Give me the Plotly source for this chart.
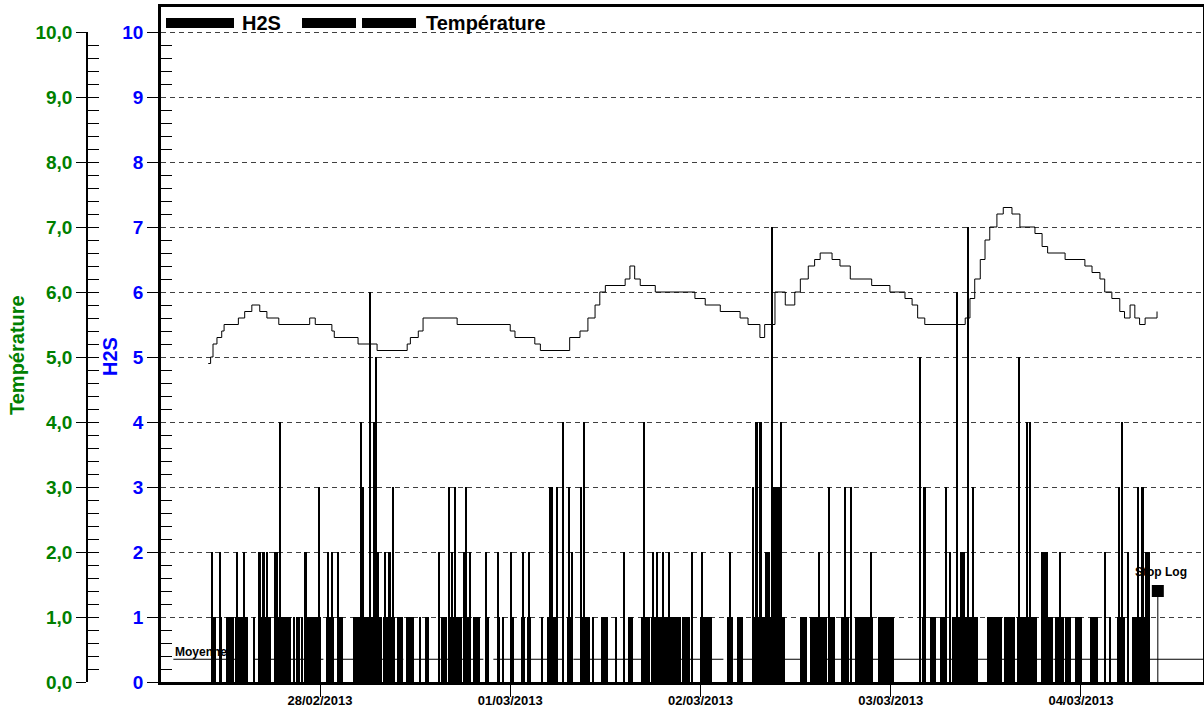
import plotly.graph_objects as go

W, H = 1204, 709
FONT = "Liberation Sans, Arial, sans-serif"

# temps en heures depuis le 27/02/2013 00:00
date_ticks = [24, 48, 72, 96, 120]
date_labels = ["28/02/2013", "01/03/2013", "02/03/2013", "03/03/2013", "04/03/2013"]

# H2S : periodes continues (debut, fin, niveau)
h2s_block_start = [10.2, 11.2, 12.2, 13.3, 15.5, 16.2, 18.2, 20.6, 21.0, 21.6, 22.1, 24.8, 26.1,
                   28.2, 29.5, 32.0, 33.7, 34.9, 36.6, 37.2, 39.3, 40.2, 42.1, 43.3, 44.8, 46.3,
                   48.1, 49.4, 50.1, 52.6, 55.1, 56.8, 59.4, 62.9, 64.5, 65.8, 68.2, 69.7, 71.9,
                   75.3, 76.6, 78.5, 84.6, 85.8, 88.2, 89.7, 91.5, 94.4, 99.9, 101.0, 102.2,
                   103.7, 108.2, 110.3, 111.9, 115.9, 116.7, 118.0, 119.2, 121.1, 124.5, 126.4,
                   18.2, 42.1, 80.1, 104.7, 115.0, 128.1, 81.2]
h2s_block_end = [10.9, 11.6, 13.2, 14.9, 15.8, 17.8, 20.4, 20.9, 21.5, 21.9, 24.1, 25.8, 26.9,
                 29.0, 31.8, 33.5, 34.5, 35.8, 36.8, 37.7, 40.0, 41.9, 43.1, 44.2, 45.3, 46.7,
                 48.5, 49.9, 50.6, 54.0, 55.8, 58.1, 60.3, 63.5, 65.6, 67.9, 69.6, 70.7, 73.5,
                 76.1, 77.4, 82.7, 85.4, 87.9, 89.0, 90.7, 93.8, 96.4, 100.5, 101.7, 102.8,
                 107.0, 110.1, 111.7, 114.4, 116.5, 117.8, 118.8, 120.1, 122.2, 125.5, 128.7,
                 18.7, 42.5, 80.8, 105.4, 115.8, 128.7, 82.3]
h2s_block_level = [1] * 62 + [2, 2, 2, 2, 2, 2, 3]

# H2S : pics brefs
h2s_peak_time = [10.4, 11.4, 13.6, 14.4, 16.4, 16.9, 17.4, 19.0, 22.2, 23.9, 25.0, 25.6, 26.3,
                 29.2, 29.4, 30.3, 30.8, 31.1, 31.4, 32.2, 32.8, 33.2, 39.1, 40.3, 40.7, 41.1,
                 42.4, 42.9, 45.0, 46.5, 47.1, 48.1, 49.6, 50.4, 52.0, 53.0, 53.3, 53.9, 54.7,
                 55.4, 55.8, 57.0, 57.3, 58.5, 61.4, 62.4, 64.9, 66.0, 66.6, 67.3, 68.1, 71.0,
                 72.2, 75.8, 78.7, 79.1, 79.6, 81.0, 82.2, 87.0, 88.2, 90.3, 91.0, 93.6, 99.7,
                 100.3, 103.0, 103.5, 104.4, 105.8, 106.4, 112.2, 113.2, 113.6, 117.4, 123.1,
                 123.7, 124.8, 125.2, 126.0, 127.2, 127.8]
h2s_peak_level = [2, 2, 2, 2, 2, 2, 2, 4, 2, 3, 2, 2, 2,
                  4, 3, 6, 4, 5, 2, 2, 2, 3, 2, 3, 2, 3,
                  3, 2, 2, 2, 1, 2, 2, 2, 1, 3, 3, 3, 4,
                  3, 2, 3, 4, 1, 1, 2, 4, 2, 2, 2, 2, 2,
                  2, 2, 3, 4, 4, 7, 4, 2, 3, 3, 3, 2, 5,
                  3, 3, 2, 6, 7, 3, 5, 4, 4, 2, 2,
                  1, 3, 4, 2, 3, 3]

# Temperature
temp_time = [9.9, 10.2, 10.5, 11.0, 11.6, 11.9, 13.7, 14.5, 15.4, 16.4, 17.3, 18.8, 22.7, 23.4,
             25.5, 25.8, 28.8, 31.2, 35.0, 35.4, 36.4, 37.0, 41.3, 48.0, 48.6, 51.1, 51.8, 55.5,
             56.8, 57.8, 58.7, 59.3, 60.0, 62.5, 63.1, 63.7, 64.4, 66.3, 71.3, 72.6, 74.5, 77.0,
             78.0, 79.5, 80.1, 81.4, 82.7, 83.9, 84.6, 85.6, 86.4, 87.1, 88.6, 89.6, 90.9, 93.6,
             95.9, 97.8, 98.7, 99.4, 100.3, 105.4, 106.0, 106.6, 107.3, 107.9, 108.5, 109.4,
             110.2, 111.3, 112.3, 114.2, 115.1, 115.8, 118.0, 120.5, 121.4, 122.4, 123.0, 123.9,
             124.9, 125.5, 126.2, 126.8, 127.4, 128.1, 129.6]
temp_value = [4.9, 5.0, 5.2, 5.3, 5.4, 5.5, 5.6, 5.7, 5.8, 5.7, 5.6, 5.5, 5.6, 5.5,
              5.4, 5.3, 5.2, 5.1, 5.2, 5.3, 5.4, 5.6, 5.5, 5.4, 5.3, 5.2, 5.1, 5.3,
              5.4, 5.6, 5.8, 6.0, 6.1, 6.2, 6.4, 6.2, 6.1, 6.0, 5.9, 5.8, 5.7, 5.6,
              5.5, 5.3, 5.5, 6.0, 5.8, 6.0, 6.2, 6.4, 6.5, 6.6, 6.5, 6.4, 6.2, 6.1,
              6.0, 5.9, 5.8, 5.6, 5.5, 5.6, 5.9, 6.2, 6.5, 6.8, 7.0, 7.2,
              7.3, 7.2, 7.0, 6.9, 6.7, 6.6, 6.5, 6.4, 6.3, 6.2, 6.0, 5.9,
              5.7, 5.6, 5.8, 5.6, 5.5, 5.6, 5.7]

moyenne_h2s = 0.35
moyenne_from = 5.5
stop_log_time = 129.7
stop_log_level = 1.4

x_range = [3.94, 135.4]


def px(x):
    return x / W


def py(y):
    return (682 - y) / 675


fig = go.Figure()

fig.add_trace(go.Bar(
    x=[(s + e) / 2 for s, e in zip(h2s_block_start, h2s_block_end)],
    y=h2s_block_level,
    width=[e - s for s, e in zip(h2s_block_start, h2s_block_end)],
    marker=dict(color="black", line=dict(width=0)),
    showlegend=False, hoverinfo="skip"))

fig.add_trace(go.Bar(
    x=h2s_peak_time, y=h2s_peak_level, width=0.2,
    marker=dict(color="black", line=dict(width=0)),
    showlegend=False, hoverinfo="skip"))

# moyenne
fig.add_trace(go.Scatter(
    x=[moyenne_from, x_range[1]], y=[moyenne_h2s, moyenne_h2s], mode="lines",
    line=dict(color="black", width=1, dash="70px,10px"), showlegend=False, hoverinfo="skip"))

# stop log
fig.add_trace(go.Scatter(
    x=[stop_log_time, stop_log_time], y=[0, stop_log_level], mode="lines",
    line=dict(color="black", width=1), showlegend=False, hoverinfo="skip"))
fig.add_trace(go.Scatter(
    x=[stop_log_time], y=[stop_log_level], mode="markers",
    marker=dict(symbol="square", size=12, color="black"), showlegend=False, hoverinfo="skip"))

fig.add_trace(go.Scatter(
    x=temp_time, y=temp_value, yaxis="y2", mode="lines",
    line=dict(color="black", width=1, shape="hv"), showlegend=False, hoverinfo="skip"))

minor_vals = [i / 5 for i in range(51) if i % 5]

fig.update_layout(
    width=W, height=H,
    margin=dict(l=0, r=0, t=7, b=27, autoexpand=False),
    paper_bgcolor="white", plot_bgcolor="rgba(0,0,0,0)",
    separators=",.",
    barmode="overlay", bargap=0,
    font=dict(family=FONT, color="black"),
    xaxis=dict(
        domain=[161 / W, 1203 / W], range=x_range, anchor="y", automargin=False,
        tickvals=date_ticks, ticktext=date_labels,
        ticks="outside", ticklen=12, tickcolor="black", tickwidth=1,
        ticklabelstandoff=-7,
        tickfont=dict(size=13, weight="bold", color="black"),
        showline=True, linecolor="black", linewidth=2.5, mirror=True,
        showgrid=False, zeroline=False),
    yaxis=dict(
        domain=[0, 1], range=[0, 10.385], automargin=False,
        tickvals=list(range(11)), tickformat="d",
        ticks="outside", ticklen=11, tickcolor="black", tickwidth=1,
        tickfont=dict(size=19, weight="bold", color="#0000ff"),
        showline=True, linecolor="black", linewidth=2.5, mirror=True,
        showgrid=True, gridcolor="#404040", gridwidth=1, griddash="5px,4px",
        zeroline=False,
        minor=dict(tickvals=minor_vals, ticks="inside", ticklen=11,
                   tickcolor="black", tickwidth=1, showgrid=False)),
    yaxis2=dict(
        domain=[0, 650 / 675], range=[0, 10], anchor="free", position=87 / W,
        side="left", tickvals=list(range(11)), tickformat=".1f", automargin=False,
        ticks="outside", ticklen=10, tickcolor="black", tickwidth=1,
        tickfont=dict(size=19, weight="bold", color="#008000"),
        showline=True, linecolor="black", linewidth=1.5,
        showgrid=False, zeroline=False,
        minor=dict(tickvals=minor_vals, ticks="inside", ticklen=11,
                   tickcolor="black", tickwidth=1, showgrid=False)),
    yaxis3=dict(
        domain=[0, 650 / 675], range=[0, 10], anchor="free", position=87 / W,
        overlaying="y2", side="left", tickvals=list(range(11)), automargin=False,
        ticks="inside", ticklen=11, tickcolor="black", tickwidth=1,
        showticklabels=False, showline=False, showgrid=False, zeroline=False),
)

# trace invisible pour afficher yaxis3
fig.add_trace(go.Scatter(x=[None], y=[None], yaxis="y3", showlegend=False, hoverinfo="skip"))

# titres des axes
fig.add_annotation(x=px(17), y=py(355), xref="paper", yref="paper", text="Température",
                   textangle=-90, showarrow=False, xanchor="center", yanchor="middle",
                   font=dict(size=20, weight="bold", color="#008000"))
fig.add_annotation(x=px(110), y=py(357), xref="paper", yref="paper", text="H2S",
                   textangle=-90, showarrow=False, xanchor="center", yanchor="middle",
                   font=dict(size=20, weight="bold", color="#0000ff"))

# legende
for x0, x1 in [(166, 234), (302, 356), (362, 416)]:
    fig.add_shape(type="rect", xref="paper", yref="paper", x0=px(x0), x1=px(x1),
                  y0=py(28), y1=py(18), fillcolor="black", line=dict(width=0))
fig.add_annotation(x=px(240), y=py(23), xref="paper", yref="paper", text="H2S",
                   showarrow=False, xanchor="left", yanchor="middle",
                   font=dict(size=20, weight="bold"))
fig.add_annotation(x=px(424), y=py(23), xref="paper", yref="paper", text="Température",
                   showarrow=False, xanchor="left", yanchor="middle",
                   font=dict(size=20, weight="bold"))

# textes
fig.add_annotation(x=moyenne_from, y=moyenne_h2s, text="Moyenne", showarrow=False,
                   xanchor="left", yanchor="bottom", yshift=-2,
                   font=dict(size=12, weight="bold"))
fig.add_annotation(x=stop_log_time, y=stop_log_level, text="Stop Log", showarrow=False,
                   xanchor="center", yanchor="bottom", yshift=10, xshift=3,
                   font=dict(size=12, weight="bold"))

fig.write_html("out.html", config={"displayModeBar": False},
               post_script="document.body.style.margin='0';document.body.style.overflow='hidden';")
